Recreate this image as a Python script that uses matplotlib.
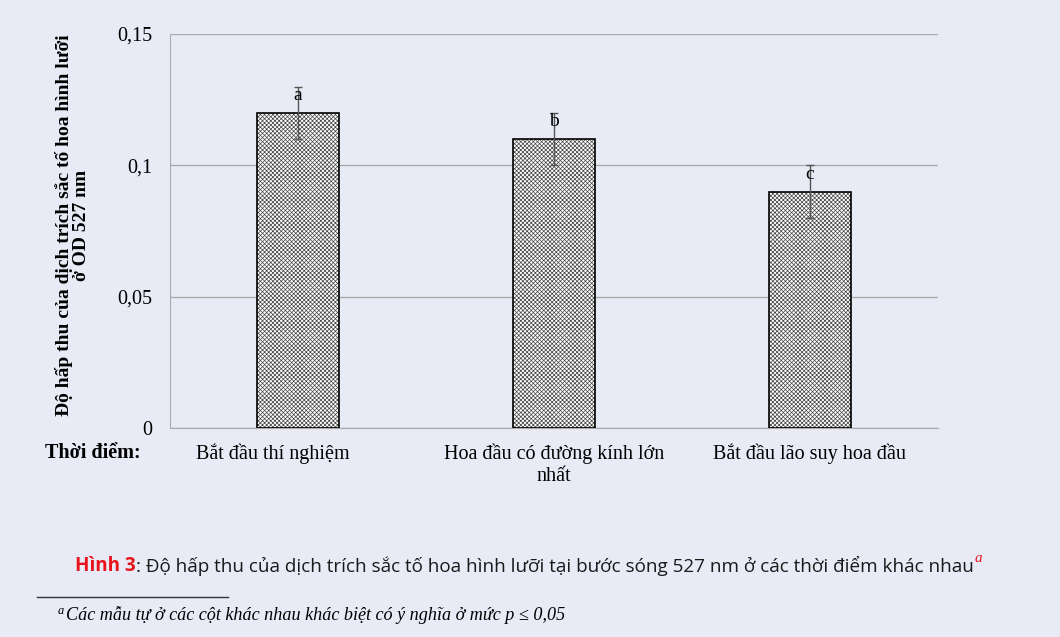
import matplotlib
matplotlib.use("Agg")
import matplotlib.pyplot as plt
import numpy as np

categories = ["Bắt đầu thí nghiệm" + "\u00a0" * 10, "Hoa đầu có đường kính lớn\nnhất", "Bắt đầu lão suy hoa đầu"]
values = [0.12, 0.11, 0.09]
errors = [0.01, 0.01, 0.01]
letters = ["a", "b", "c"]
yticks = [0, 0.05, 0.1, 0.15]
ytick_labels = ["0", "0,05", "0,1", "0,15"]

bg = "#e8eaf6"
plt.rcParams["hatch.linewidth"] = 0.5
fig = plt.figure(figsize=(10.6, 6.37), dpi=100, facecolor=bg)
ax = fig.add_axes([170/1060, 1-428/637, 768/1060, 394/637], facecolor=bg)

x = np.arange(len(categories))
ax.bar(x, values, width=0.32, color="white", edgecolor="#444444", hatch="xxxxxxxx", linewidth=0, zorder=3)
ax.bar(x, values, width=0.32, color="none", edgecolor="black", linewidth=1.2, zorder=3.5)
ax.errorbar(x, values, yerr=errors, fmt="none", ecolor="#555555", elinewidth=1.0, capsize=3, capthick=1.0, zorder=4)
for xi, v, e, l in zip(x, values, errors, letters):
    ax.text(xi, v + e - 0.0035, l, ha="center", va="center", fontsize=14,
            family=["Liberation Serif", "DejaVu Serif"], zorder=5)

ax.set_xlim(-0.5, 2.5)
ax.set_ylim(0, 0.15)
ax.set_yticks(yticks)
ax.set_yticklabels(ytick_labels, family="Liberation Serif", fontsize=14.5)
ax.yaxis.grid(True, color="#aaaaaa", linewidth=1.0, zorder=0)
ax.set_axisbelow(True)
ax.tick_params(axis="y", length=0, pad=13)
ax.tick_params(axis="x", length=0, pad=11)
ax.set_xticks(x)
ax.set_xticklabels(categories, family="Liberation Serif", fontsize=14.5, linespacing=1.25)
for lab in ax.get_xticklabels():
    lab.set_verticalalignment("top")
for s in ["top", "right"]:
    ax.spines[s].set_visible(False)
ax.spines["left"].set_color("#aaaaaa")
ax.spines["bottom"].set_color("#aaaaaa")

fig.text(73/1060, 1-225/637, "Độ hấp thu của dịch trích sắc tố hoa hình lưỡi\nở OD 527 nm",
         rotation=90, ha="center", va="center", fontsize=14, fontweight="bold",
         family=["Liberation Serif", "DejaVu Serif"], linespacing=1.0, multialignment="center")
fig.text(45/1060, 1-453/637, "Thời điểm:", ha="left", va="center", fontsize=14.5, fontweight="bold",
         family=["Liberation Serif", "DejaVu Serif"])

# caption
fig.canvas.draw()
r = fig.canvas.get_renderer()
cap_y = 1-566/637
t1 = fig.text(75/1060, cap_y, "Hình 3", color="#e8141c", fontweight="bold", fontsize=13.6,
              family=["Open Sans", "DejaVu Sans"], ha="left", va="center")
bb = t1.get_window_extent(r)
t2 = fig.text(bb.x1/1060, cap_y, ": Độ hấp thu của dịch trích sắc tố hoa hình lưỡi tại bước sóng 527 nm ở các thời điểm khác nhau",
              color="#1a1a1a", fontsize=13.6, family=["Open Sans", "DejaVu Sans"], ha="left", va="center")
bb2 = t2.get_window_extent(r)
fig.text(bb2.x1/1060 + 0.001, cap_y + 0.012, "a", color="#e8141c", fontstyle="italic", fontsize=11,
         family=["Liberation Serif", "DejaVu Serif"], ha="left", va="center")

fig.add_artist(plt.Line2D([37/1060, 228/1060], [1-597/637, 1-597/637], color="#333333", linewidth=1.0))
fig.text(58/1060, 1-611/637, "a", fontstyle="italic", fontsize=9, family=["Liberation Serif", "DejaVu Serif"],
         ha="left", va="center")
fig.text(66/1060, 1-615/637, "Các mẫu tự ở các cột khác nhau khác biệt có ý nghĩa ở mức p ≤ 0,05",
         fontstyle="italic", fontsize=13.1, family=["Liberation Serif", "DejaVu Serif"], ha="left", va="center")

fig.savefig("out.png", dpi=100, facecolor=bg)
